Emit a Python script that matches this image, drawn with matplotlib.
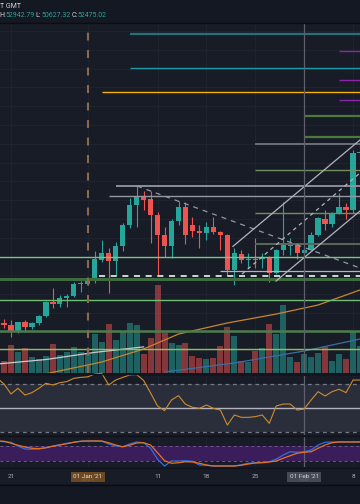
import matplotlib
matplotlib.use('Agg')
import matplotlib.pyplot as plt
import matplotlib.transforms as mtrans
from matplotlib.lines import Line2D
import numpy as np
import pandas as pd

plt.rcParams['font.family'] = ['Roboto', 'DejaVu Sans']

# daily candles, 19 Dec 2020 .. 9 Feb 2021
dates = pd.date_range('2020-12-19', '2021-02-09', freq='D')
opens = [23150, 23650, 23390, 22460, 23790, 23120, 23660, 24590, 26450, 26180,
         26980, 27250, 28840, 28840, 29380, 32040, 32970, 31900, 33900, 36690,
         39350, 40550, 40150, 38020, 35360, 33900, 37220, 39090, 36690, 35890,
         35630, 36430, 35760, 35360, 30710, 32830, 32040, 32170, 32170, 32440,
         30310, 33370, 33900, 34160, 32970, 33370, 35360, 37490, 36820, 38290,
         39090, 38690, 46270]
highs = [24150, 24190, 24060, 23800, 24060, 23790, 24720, 26580, 28310, 27380,
         27500, 29110, 29240, 29300, 33230, 34700, 33630, 34430, 36960, 40280,
         41880, 41210, 41210, 38420, 36430, 37490, 39880, 39750, 37760, 36690,
         37090, 37760, 35900, 35500, 33630, 33370, 33000, 34960, 33000, 32570,
         33500, 39750, 34960, 34300, 33630, 35760, 37760, 38690, 38420, 40950,
         39620, 46670, 48000]
lows = [22800, 22990, 21800, 22330, 22460, 22860, 23390, 24450, 25650, 25770,
        25770, 27100, 27780, 28710, 28980, 31770, 27650, 29910, 33230, 36290,
        36430, 38690, 34300, 30040, 32440, 32300, 36690, 34160, 35100, 33630,
        34700, 35500, 33370, 29910, 28710, 31640, 30970, 30970, 30970, 29110,
        30170, 32700, 32700, 32170, 32570, 33230, 35230, 36030, 36420, 38150,
        37490, 38290, 45500]
closes = [23850, 23390, 22590, 23790, 23120, 23660, 24590, 26450, 26180, 26980,
          27250, 28840, 28980, 29240, 32170, 32970, 31900, 33900, 36690, 39350,
          40550, 40020, 38020, 35360, 33900, 37220, 39090, 35360, 35890, 35630,
          36430, 35760, 35360, 30710, 32970, 32040, 32170, 32040, 32440, 30310,
          33370, 34160, 34030, 32970, 33370, 35360, 37620, 36820, 38290, 39090,
          38690, 46270, 46400]
volumes = [19, 12, 28, 21, 25, 16, 14, 17, 29, 18, 21, 26, 21, 19, 39, 31, 49, 33,
           42, 50, 48, 19, 35, 88, 40, 30, 28, 30, 17, 15, 14, 15, 27, 46, 37, 12,
           11, 22, 25, 49, 39, 68, 16, 11, 19, 16, 20, 26, 12, 19, 14, 42, 27]
rsi = [75, 70, 61.7, 66.4, 60.8, 62.8, 66.4, 70.6, 69.2, 71.1, 72, 74.7, 75.5, 76,
       78.3, 79, 69.2, 73.3, 75.5, 77.5, 77.8, 73, 62.5, 51.7, 47.8, 56.7, 60.3,
       53.1, 50.6, 49.7, 52.5, 49.7, 48.3, 35.8, 44.2, 42.2, 42.2, 42.8, 44.2,
       37.2, 51.7, 53.3, 53.3, 48.3, 49.2, 56.7, 63.6, 60, 63.6, 65.6, 62.8,
       73.3, 73.3]
stoch_k = [100, 97, 95, 80, 68, 67, 69, 73, 80, 85, 91, 95, 99, 100, 100, 99, 88,
           80, 77, 88, 96, 93, 71, 27, 0, 20, 20, 21, 19, 4, 3, 0, 0, 0, 0, 5, 11,
           13, 15, 17, 27, 44, 57, 55, 57, 64, 84, 95, 96, 96, 96, 96, 96]
stoch_d = [100, 99, 91, 83, 76, 71, 69, 73, 79, 84, 89, 95, 99, 100, 100, 100, 93,
           84, 77, 83, 92, 93, 84, 53, 21, 11, 13, 17, 16, 11, 4, 0, 0, 0, 0, 3, 8,
           12, 13, 16, 20, 31, 41, 51, 55, 57, 71, 84, 93, 96, 96, 96, 96]

# moving averages read at a few dates
ma_orange_dates = ['2020-12-26', '2021-01-03', '2021-01-09', '2021-01-14',
                   '2021-01-21', '2021-01-28', '2021-02-03', '2021-02-09']
ma_orange = [16900, 18470, 20200, 22190, 23660, 24850, 26050, 28050]
ma_white_dates = ['2020-12-19', '2020-12-26', '2021-01-02', '2021-01-09']
ma_white = [18200, 18800, 19750, 20480]
ma_blue_dates = ['2021-01-12', '2021-01-22', '2021-02-01', '2021-02-09']
ma_blue = [17140, 18340, 19930, 21530]

# horizontal levels: price, start day, colour, width
levels = [
    (62100, 18, '#27707a', 1.6),
    (57570, 18, '#1e9aa6', 1.0),
    (54380, 14, '#f7b500', 1.0),
    (59830, 48, '#8e24aa', 1.0),
    (55980, 48, '#8e24aa', 1.0),
    (53320, 48, '#8e24aa', 1.0),
    (51190, 43, '#4c7a3c', 1.6),
    (48400, 43, '#4c7a3c', 1.6),
    (47460, 36, '#787b86', 1.2),
    (44000, 36, '#6f8f5f', 1.0),
    (41880, 16, '#9598a1', 1.3),
    (40550, 15, '#9598a1', 1.0),
    (38290, 36, '#6f8f5f', 1.0),
    (34160, 36, '#5b6858', 1.4),
    (32440, -1, '#7cc47f', 1.0),
    (30570, 31, '#b2b5be', 0.9),
    (29510, -1, '#3e6b3e', 2.2),
    (26720, -1, '#6fbf73', 1.0),
    (22590, -1, '#4d7d4d', 1.8),
    (20200, -1, '#8bc34a', 1.0),
]
dashed_level = (29910, 13.6)
# trend lines: (day, price) -> (day, price)
trend_lines = [
    ((19.05, 41880), (51, 30970), '#9598a1', (4, 4)),
    ((32.8, 33850), (51, 48000), '#b2b5be', None),
    ((38.97, 29240), (51, 38550), '#b2b5be', None),
    ((34.1, 30170), (51, 43610), '#b2b5be', (3, 3)),
]
tick_days = [1, 22, 29, 36, 50]
tick_labels = ['21', '11', '18', '25', '8']

W, H = 360, 504
BG = '#181c27'
UP, DOWN = '#26a69a', '#ef5350'
XMIN, XMAX = -0.573, 51.0

fig = plt.figure(figsize=(3.6, 5.04), dpi=100, facecolor='#141822')


def rect(top, bottom):
    return [0, 1 - bottom / H, 1, (bottom - top) / H]


def clean(a):
    a.set_xlim(XMIN, XMAX)
    a.set_xticks([])
    a.set_yticks([])
    for s in a.spines.values():
        s.set_visible(False)


x = np.arange(len(dates)) - 1
day = {d.strftime('%Y-%m-%d'): i - 1 for i, d in enumerate(dates)}
o, h, l, c = map(np.array, (opens, highs, lows, closes))
up = c >= o
cols = np.where(up, UP, DOWN)

# main price panel
ax = fig.add_axes(rect(23, 373), facecolor=BG)
clean(ax)
ax.set_ylim(17007, 63557)
for p in range(17500, 63000, 2500):
    ax.axhline(p, color='#1f2330', lw=0.8, zorder=0)
for t in tick_days + [12, 43]:
    ax.axvline(t, color='#1f2330', lw=0.8, zorder=0)

vol_tr = mtrans.blended_transform_factory(
    ax.transData, mtrans.Affine2D().scale(1, 1 / 350) + ax.transAxes)
ax.bar(x, volumes, width=0.86, color=cols, alpha=0.5, transform=vol_tr, zorder=1)

ax.plot([day[d] for d in ma_white_dates], ma_white, color='#c9cbd1', lw=0.9, zorder=2)
ax.plot([day[d] for d in ma_blue_dates], ma_blue, color='#3a6ea5', lw=0.9, zorder=2)
ax.plot([day[d] for d in ma_orange_dates], ma_orange, color='#c8862a', lw=0.9, zorder=2)

ax.vlines(x, l, h, color=cols, lw=0.8, zorder=3)
body = np.maximum(np.abs(c - o), 130)
ax.bar(x, body, bottom=np.minimum(o, c), width=0.76, color=cols, zorder=3)

for price, start, col, lw in levels:
    ax.hlines(price, start, XMAX, color=col, lw=lw, zorder=4)
ax.hlines(dashed_level[0], dashed_level[1], XMAX, color='#d1d4dc', lw=1.4,
          linestyles=(0, (3.1, 2.9)), zorder=4)
for (x0, y0), (x1, y1), col, dash in trend_lines:
    ln, = ax.plot([x0, x1], [y0, y1], color=col, lw=0.9, zorder=4)
    if dash:
        ln.set_dashes(dash)
ax.axvline(12, color='#8b6a4a', lw=1.5, dashes=(3.8, 4.6), zorder=4)
ax.axvline(43, color='#5d606b', lw=0.9, zorder=4)

# RSI panel
ax_rsi = fig.add_axes(rect(376, 435), facecolor=BG)
clean(ax_rsi)
ax_rsi.set_ylim(27.5, 76.67)
ax_rsi.axhspan(30, 70, color='#2a2e3a', lw=0)
ax_rsi.axhline(70, color='#787b86', lw=0.9, dashes=(3, 3))
ax_rsi.axhline(30, color='#787b86', lw=0.9, dashes=(3, 3))
ax_rsi.axhline(50, color='#b2b5be', lw=1.0)
for t in tick_days + [12, 43]:
    ax_rsi.axvline(t, color='#1f2330', lw=0.8, zorder=0)
ax_rsi.axvline(43, color='#5d606b', lw=0.9)
ax_rsi.plot(x, rsi, color='#d08b2c', lw=0.8, clip_on=False, zorder=5)

# stochastic panel
ax_st = fig.add_axes(rect(437, 467), facecolor=BG)
clean(ax_st)
ax_st.set_ylim(-4, 116)
ax_st.axhspan(20, 80, color='#3b1d5c', lw=0)
ax_st.axhline(80, color='#6a5a85', lw=0.7, dashes=(3, 3))
ax_st.axhline(20, color='#6a5a85', lw=0.7, dashes=(3, 3))
for t in tick_days + [12, 43]:
    ax_st.axvline(t, color='#1f2330', lw=0.8, zorder=0)
ax_st.axvline(43, color='#5d606b', lw=0.9)
ax_st.plot(x, stoch_k, color='#2f6fe0', lw=0.9)
ax_st.plot(x, stoch_d, color='#e8721c', lw=0.9)

# time axis (regular labels, with the two highlighted dates boxed on top)
ax_t = fig.add_axes(rect(468, 484), facecolor=BG)
clean(ax_t)
ax_t.set_ylim(0, 1)
for t, lab in zip(tick_days, tick_labels):
    ax_t.text(t, 0.45, lab, color='#b2b5be', fontsize=4.6, ha='center', va='center')
ax_t.text(12, 0.3, '2021', color='#b2b5be', fontsize=4.6, ha='center', va='center')
ax_t.text(43, 0.3, 'Feb', color='#b2b5be', fontsize=4.6, ha='center', va='center')
ax_t.text(12, 0.45, "01 Jan '21", color='#e6ded5', fontsize=4.6, ha='center', va='center',
          bbox=dict(boxstyle='square,pad=0.35', fc='#7a4f22', ec='none', alpha=0.85))
ax_t.text(43, 0.45, "01 Feb '21", color='#d1d4dc', fontsize=4.6, ha='center', va='center',
          bbox=dict(boxstyle='square,pad=0.35', fc='#4c505b', ec='none', alpha=0.88))

# separators
for yy, col in [(23, '#0b0d12'), (374, '#10131b'), (436, '#10131b'),
                (467.5, '#10131b'), (484.5, '#0b0d12')]:
    fig.add_artist(Line2D([0, 1], [1 - yy / H, 1 - yy / H], color=col, lw=1.0,
                          transform=fig.transFigure))

# header
fig.text(-0.5 / W, 1 - 6.5 / H, 'T GMT', color='#d1d4dc', fontsize=5, va='center')
hx = -1
for key, val in [('H:', '52942.79'), ('L:', '50627.32'), ('C:', '52475.02')]:
    fig.text(hx / W, 1 - 15.5 / H, key, color='#d1d4dc', fontsize=5, va='center')
    fig.text((hx + 6) / W, 1 - 15.5 / H, val, color=UP, fontsize=5, va='center')
    hx += 36.5

fig.savefig('out.png', dpi=100, facecolor=fig.get_facecolor())
